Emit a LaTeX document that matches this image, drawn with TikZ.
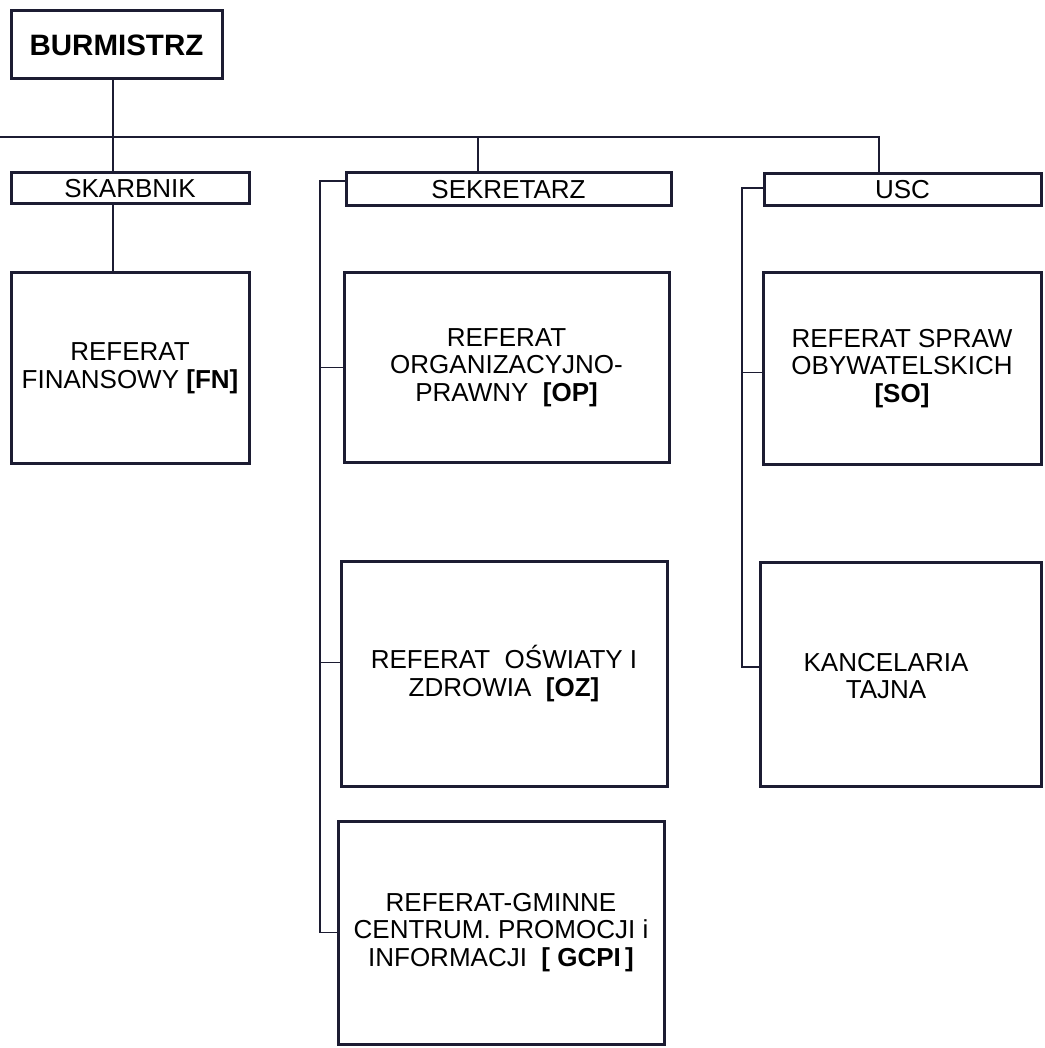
\documentclass[tikz,border=0pt]{standalone}
\usepackage{fontspec}
\setmainfont{Liberation Sans}
\definecolor{ink}{RGB}{28,28,50}
\tikzset{
  unit/.style={draw=ink, line width=3pt, fill=white, inner sep=0pt, align=center,
    font=\fontsize{26}{27.6}\selectfont},
  conn/.style={draw=ink, line width=1.5pt},
}
\begin{document}
\begin{tikzpicture}[x=1pt,y=-1pt]
\useasboundingbox (0,0) rectangle (1044,1048);
% boxes
\node[unit, minimum width=211pt, minimum height=68pt, font=\fontsize{29.5}{32}\selectfont\bfseries] (bur) at (116.5,45) {BURMISTRZ};
\node[unit, minimum width=238pt, minimum height=31pt] (skar) at (130,188.5) {SKARBNIK};
\node[unit, minimum width=325pt, minimum height=33pt] (sek) at (508.5,189.5) {SEKRETARZ};
\node[unit, minimum width=277pt, minimum height=32pt] (usc) at (902.5,190) {USC};
\node[unit, minimum width=238pt, minimum height=191pt] (fn) at (130,368) {REFERAT\\FINANSOWY \textbf{[FN]}};
\node[unit, minimum width=325pt, minimum height=189pt] (op) at (506.5,367.5) {REFERAT\\ORGANIZACYJNO-\\PRAWNY\ \ \textbf{[OP]}};
\node[unit, minimum width=278pt, minimum height=191pt] (so) at (902,368.5) {REFERAT SPRAW\\OBYWATELSKICH\\\textbf{[SO]}};
\node[unit, minimum width=326pt, minimum height=225pt] (oz) at (504,673.5) {REFERAT\ \ OŚWIATY I\\ZDROWIA\ \ \textbf{[OZ]}};
\node[unit, minimum width=281pt, minimum height=224pt] (kt) at (900.5,674) {};
\node[align=center, inner sep=0pt, font=\fontsize{26}{27.6}\selectfont] (kttext) at (886,676) {KANCELARIA\\TAJNA};
\node[unit, minimum width=326pt, minimum height=223pt] (gcpi) at (501,932.5) {REFERAT-GMINNE\\CENTRUM. PROMOCJI i\\INFORMACJI\ \ \textbf{[ GCPI\,]}};
% coordinates
\coordinate (trunk) at (113,137);
\coordinate (hl) at (0,137);
\coordinate (sv) at (478,137);
\coordinate (uv) at (879,137);
\coordinate (sb) at (320,181);
\coordinate (ub) at (742,188);
% top connectors
\draw[conn] (bur.south -| trunk) -- (skar.north -| trunk);
\draw[conn] (skar.south -| trunk) -- (fn.north -| trunk);
\draw[conn] (hl) -- (uv) -- (usc.north -| uv);
\draw[conn] (sv) -- (sek.north -| sv);
% sekretarz bracket
\draw[conn] (sek.west |- sb) -- (sb) -- (sb |- gcpi.west) -- (gcpi.west);
\draw[conn] (op.west) -- (op.west -| sb);
\draw[conn] ([yshift=11pt]oz.west) -- ([yshift=11pt]oz.west -| sb);
% usc bracket
\draw[conn] (usc.west |- ub) -- (ub) -- ([yshift=7pt]ub |- kt.west) -- ([yshift=7pt]kt.west);
\draw[conn] ([yshift=-4pt]so.west) -- ([yshift=-4pt]so.west -| ub);
\end{tikzpicture}
\end{document}
